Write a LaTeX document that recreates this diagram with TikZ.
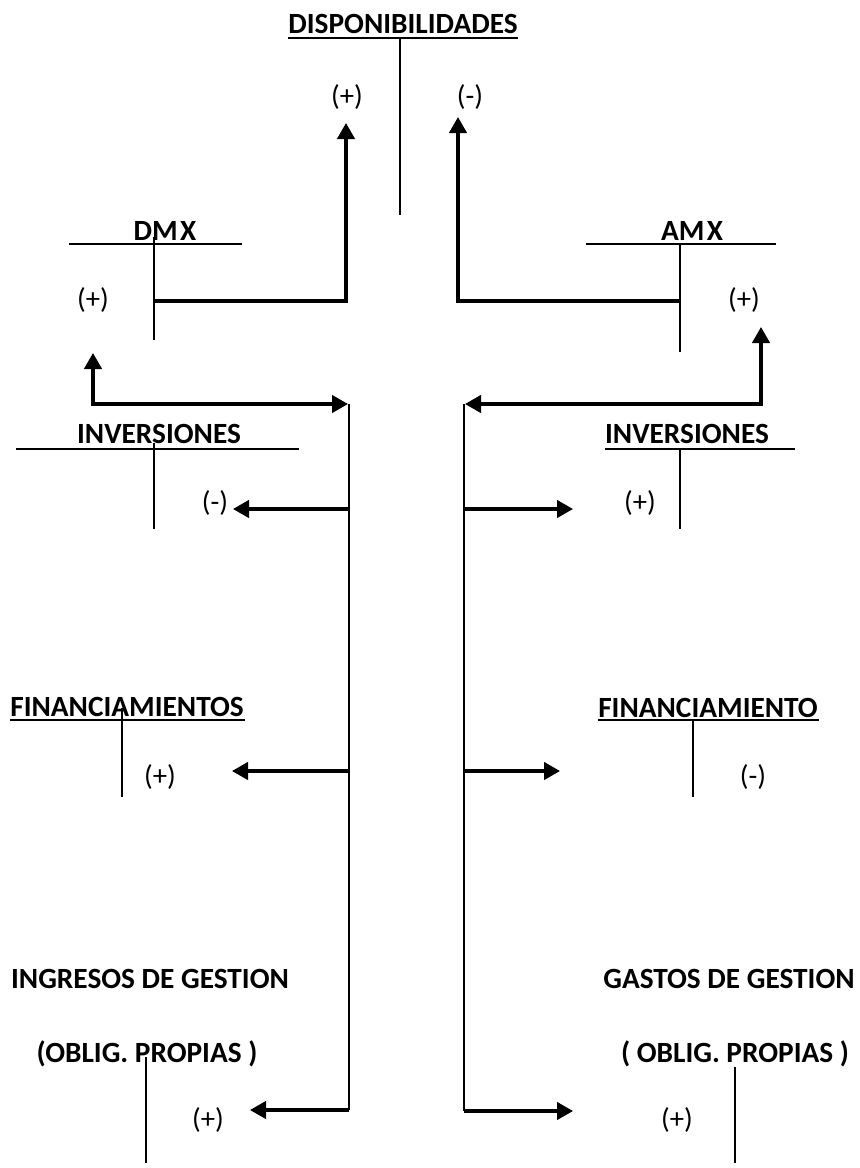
\documentclass[tikz,border=0pt]{standalone}
\usepackage{fontspec}
\setmainfont{Carlito}
\usetikzlibrary{arrows.meta}
\begin{document}
\begin{tikzpicture}[x=0.75pt,y=-0.75pt,
  lbl/.style={font=\fontsize{22}{26}\selectfont\bfseries, inner sep=0pt, anchor=base},
  sgn/.style={font=\fontsize{21.5}{25}\selectfont, inner sep=0pt},
  tline/.style={line width=1.6pt},
  spine/.style={line width=2pt},
  flow/.style={line width=2.4pt},
  arr/.style={flow, -{Triangle[width=13pt,length=12pt]}},
  darr/.style={flow, {Triangle[width=13pt,length=12pt]}-{Triangle[width=13pt,length=12pt]}}
]
\useasboundingbox (0,0) rectangle (860,1168);

% ---- DISPONIBILIDADES ----
\node[lbl] (disp) at (403,33) {DISPONIBILIDADES};
\coordinate (dispL) at (288,38);
\coordinate (dispR) at (518,38);
\coordinate (dispT) at (400,38);
\coordinate (dispB) at (400,215);
\draw[tline] (dispL) -- (dispR);
\draw[tline] (dispT) -- (dispB);
\node[sgn] (dplus) at (347,97) {(+)};
\node[sgn] (dminus) at (470,97) {(-)};
\coordinate (tipDp) at (346,123);
\coordinate (tipDm) at (458,117);

% ---- DMX ----
\node[lbl] (dmx) at (165,240) {{\spaceskip=0.08em DM X}};
\coordinate (dmxL) at (69,244);
\coordinate (dmxR) at (242,244);
\coordinate (dmxT) at (154,237);
\coordinate (dmxB) at (154,340);
\coordinate (dmxM) at (154,301);
\draw[tline] (dmxL) -- (dmxR);
\draw[tline] (dmxT) -- (dmxB);
\node[sgn] (dmxplus) at (93,300) {(+)};
\draw[arr] (dmxM) -- (346,301) -- (tipDp);

% ---- AMX ----
\node[lbl] (amx) at (692,240) {{\spaceskip=0.08em AM X}};
\coordinate (amxL) at (586,244);
\coordinate (amxR) at (776,244);
\coordinate (amxT) at (680,244);
\coordinate (amxB) at (680,352);
\coordinate (amxM) at (680,301);
\draw[tline] (amxL) -- (amxR);
\draw[tline] (amxT) -- (amxB);
\node[sgn] (amxplus) at (744,300) {(+)};
\draw[arr] (amxM) -- (458,301) -- (tipDm);

% ---- spines ----
\coordinate (lsT) at (349,404);
\coordinate (lsB) at (349,1110);
\coordinate (rsT) at (464,404);
\coordinate (rsB) at (464,1111);
\draw[spine] (lsT) -- (lsB);
\draw[spine] (rsT) -- (rsB);
\coordinate (tipDmx) at (93,353);
\coordinate (tipAmx) at (761,327);
\draw[darr] (tipDmx) -- (93,404) -- (348,404);
\draw[darr] (tipAmx) -- (761,404) -- (465,404);

% ---- INVERSIONES left ----
\node[lbl] (invL) at (159,443) {INVERSIONES};
\coordinate (invLl) at (16,449);
\coordinate (invLr) at (299,449);
\coordinate (invLt) at (154,443);
\coordinate (invLb) at (154,529);
\draw[tline] (invLl) -- (invLr);
\draw[tline] (invLt) -- (invLb);
\node[sgn] (invLm) at (215,503) {(-)};
\coordinate (s1L) at (349,509);
\coordinate (t1L) at (233,509);
\draw[arr] (s1L) -- (t1L);

% ---- INVERSIONES right ----
\node[lbl] (invR) at (687,443) {INVERSIONES};
\coordinate (invRl) at (605,449);
\coordinate (invRr) at (795,449);
\coordinate (invRt) at (680,449);
\coordinate (invRb) at (680,529);
\draw[tline] (invRl) -- (invRr);
\draw[tline] (invRt) -- (invRb);
\node[sgn] (invRp) at (640,503) {(+)};
\coordinate (s1R) at (464,509);
\coordinate (t1R) at (573,509);
\draw[arr] (s1R) -- (t1R);

% ---- FINANCIAMIENTOS ----
\node[lbl] (finL) at (127,716) {FINANCIAMIENTOS};
\coordinate (finLl) at (10,720);
\coordinate (finLr) at (245,720);
\coordinate (finLt) at (122,708);
\coordinate (finLb) at (122,797);
\draw[tline] (finLl) -- (finLr);
\draw[tline] (finLt) -- (finLb);
\node[sgn] (finLp) at (160,777) {(+)};
\coordinate (s2L) at (349,771);
\coordinate (t2L) at (232,771);
\draw[arr] (s2L) -- (t2L);

% ---- FINANCIAMIENTO ----
\node[lbl] (finR) at (708,717) {FINANCIAMIENTO};
\coordinate (finRl) at (598,720);
\coordinate (finRr) at (819,720);
\coordinate (finRt) at (693,720);
\coordinate (finRb) at (693,797);
\draw[tline] (finRl) -- (finRr);
\draw[tline] (finRt) -- (finRb);
\node[sgn] (finRm) at (753,777) {(-)};
\coordinate (s2R) at (464,771);
\coordinate (t2R) at (560,771);
\draw[arr] (s2R) -- (t2R);

% ---- INGRESOS ----
\node[lbl] (ing) at (150,988) {INGRESOS DE GESTION};
\node[lbl] (ingo) at (147,1062) {(OBLIG. PROPIAS )};
\coordinate (ingT) at (146,1057);
\coordinate (ingB) at (146,1163);
\draw[tline] (ingT) -- (ingB);
\node[sgn] (ingp) at (208,1120) {(+)};
\coordinate (t3L) at (250,1110);
\draw[arr] (lsB) -- (t3L);

% ---- GASTOS ----
\node[lbl] (gas) at (729,988) {GASTOS DE GESTION};
\node[lbl] (gaso) at (735,1062) {( OBLIG. PROPIAS )};
\coordinate (gasT) at (735,1067);
\coordinate (gasB) at (735,1163);
\draw[tline] (gasT) -- (gasB);
\node[sgn] (gasp) at (677,1120) {(+)};
\coordinate (t3R) at (573,1111);
\draw[arr] (rsB) -- (t3R);
\end{tikzpicture}
\end{document}
